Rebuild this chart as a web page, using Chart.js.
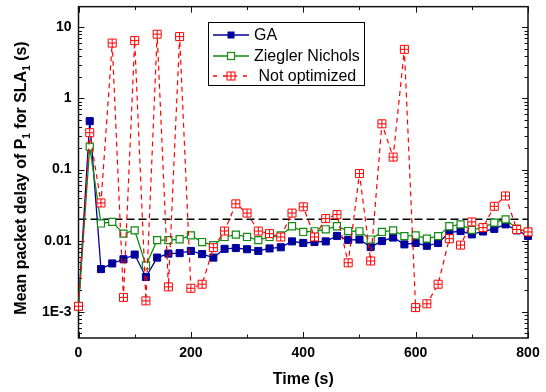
<!DOCTYPE html>
<html>
<head>
<meta charset="utf-8">
<script src="https://cdn.jsdelivr.net/npm/chart.js@4.4.1/dist/chart.umd.min.js"></script>
<style>
html, body { margin: 0; padding: 0; background: #fff; }
#wrap { width: 546px; height: 392px; }
</style>
</head>
<body>
<div id="wrap"><canvas id="delayChart" width="546" height="392"></canvas></div>
<script>
// time axis (s)
const time = [0, 20, 40, 60, 80, 100, 120, 140, 160, 180, 200, 220, 240, 260, 280, 300, 320, 340, 360, 380,
    400, 420, 440, 460, 480, 500, 520, 540, 560, 580, 600, 620, 640, 660, 680, 700, 720, 740, 760, 780, 800];

// mean packet delay (s)
const gaDelay = [0.0012, 0.48, 0.0040, 0.0048, 0.0055, 0.0064, 0.0031, 0.0058, 0.0066, 0.0067,
    0.0072, 0.0065, 0.0058, 0.0077, 0.0079, 0.0076, 0.0072, 0.0078, 0.0081, 0.0098,
    0.0093, 0.0096, 0.0098, 0.0117, 0.0103, 0.0104, 0.0082, 0.0099, 0.0111, 0.0089,
    0.0093, 0.0085, 0.0093, 0.0130, 0.0137, 0.0123, 0.0135, 0.0147, 0.0170, 0.0140, 0.0117];
const znDelay = [0.0012, 0.21, 0.0175, 0.0184, 0.0126, 0.0140, 0.0045, 0.0102, 0.0102, 0.0105,
    0.0119, 0.0096, 0.0087, 0.0113, 0.0122, 0.0113, 0.0102, 0.0113, 0.0119, 0.0160,
    0.0133, 0.0136, 0.0145, 0.0160, 0.0137, 0.0136, 0.0104, 0.0133, 0.0140, 0.0116,
    0.0119, 0.0107, 0.0116, 0.0160, 0.0170, 0.0142, 0.0153, 0.0180, 0.0200, 0.0148, 0.0133];
const notOptDelay = [0.0012, 0.33, 0.034, 6.0, 0.0016, 6.5, 0.00143, 8.0, 0.00225, 7.4,
    0.00215, 0.00245, 0.0080, 0.0137, 0.033, 0.0245, 0.0137, 0.0126, 0.0113, 0.0245,
    0.030, 0.0113, 0.0205, 0.0233, 0.0049, 0.088, 0.0052, 0.44, 0.15, 4.9,
    0.00115, 0.0013, 0.00245, 0.0107, 0.0087, 0.0184, 0.0153, 0.0305, 0.0426, 0.0144, 0.0133];
const slaLimit = 0.02;

const seriesNames = ['GA', 'Ziegler Nichols', ' Not optimized'];
const xTicks = [0, 200, 400, 600, 800];
const yTicks = [0.001, 0.01, 0.1, 1, 10];
const yTickLabels = ['1E-3', '0.01', '0.1', '1', '10'];

const FONT = "'Liberation Sans', Arial, sans-serif";
const RED = '#ff0000';
const GREEN = '#108a10';
const BLUE = '#00009c';

const toXY = arr => arr.map((v, i) => ({ x: time[i], y: v }));

// plus sign inside the red squares
function drawCross(ctx, x, y) {
    ctx.beginPath();
    ctx.moveTo(x - 4, y); ctx.lineTo(x + 4, y);
    ctx.moveTo(x, y - 4); ctx.lineTo(x, y + 4);
    ctx.stroke();
}

const frameAndText = {
    id: 'frameAndText',
    beforeDatasetsDraw(chart) {
        const { ctx, chartArea: a, scales: { x, y } } = chart;
        ctx.save();
        ctx.strokeStyle = '#111';
        ctx.lineWidth = 1;
        ctx.beginPath();
        for (let v = 0; v <= 800; v += 100) {
            const px = Math.round(x.getPixelForValue(v)) + 0.5;
            const len = v % 200 === 0 ? 6 : 3.5;
            ctx.moveTo(px, a.bottom); ctx.lineTo(px, a.bottom - len);
            ctx.moveTo(px, a.top); ctx.lineTo(px, a.top + len);
        }
        for (let e = -4; e <= 1; e++) {
            for (let m = 1; m <= 9; m++) {
                const v = m * Math.pow(10, e);
                if (v < y.min || v > y.max) continue;
                const py = Math.round(y.getPixelForValue(v)) + 0.5;
                const len = m === 1 ? 6 : 3.5;
                ctx.moveTo(a.left, py); ctx.lineTo(a.left + len, py);
                ctx.moveTo(a.right, py); ctx.lineTo(a.right - len, py);
            }
        }
        ctx.stroke();
        ctx.lineWidth = 1.5;
        ctx.strokeRect(a.left, a.top, a.right - a.left, a.bottom - a.top);
        ctx.restore();
    },
    afterDatasetsDraw(chart) {
        const { ctx } = chart;
        ctx.save();
        ctx.strokeStyle = RED;
        ctx.lineWidth = 1;
        chart.getDatasetMeta(0).data.forEach(pt => drawCross(ctx, pt.x, pt.y));
        ctx.restore();
    },
    afterDraw(chart) {
        const { ctx, chartArea: a } = chart;
        ctx.save();

        // legend
        const lx = 208, ly = 22, lw = 156, lh = 63;
        ctx.fillStyle = '#fff';
        ctx.fillRect(lx, ly, lw, lh);
        ctx.strokeStyle = '#000';
        ctx.lineWidth = 1;
        ctx.strokeRect(lx + 0.5, ly + 0.5, lw, lh);
        const rows = [35, 56, 76];
        const colors = [BLUE, GREEN, RED];
        ctx.font = '16px ' + FONT;
        ctx.textBaseline = 'middle';
        rows.forEach((ry, i) => {
            ctx.strokeStyle = colors[i];
            ctx.lineWidth = 1.3;
            ctx.setLineDash(i === 2 ? [4, 6] : []);
            ctx.beginPath();
            ctx.moveTo(213, ry); ctx.lineTo(249, ry);
            ctx.stroke();
            ctx.setLineDash([]);
            if (i === 0) {
                ctx.fillStyle = BLUE;
                ctx.fillRect(227.5, ry - 3.5, 7, 7);
            } else if (i === 1) {
                ctx.fillStyle = '#fff';
                ctx.fillRect(227.5, ry - 3.5, 7, 7);
                ctx.lineWidth = 1.2;
                ctx.strokeRect(227.5, ry - 3.5, 7, 7);
            } else {
                ctx.fillStyle = '#fff';
                ctx.fillRect(227, ry - 4, 8, 8);
                ctx.lineWidth = 1;
                ctx.strokeRect(227, ry - 4, 8, 8);
                drawCross(ctx, 231, ry);
            }
            ctx.fillStyle = '#000';
            ctx.textAlign = 'left';
            ctx.fillText(seriesNames[i], 254, ry + 1);
        });

        // x title
        ctx.font = 'bold 16px ' + FONT;
        ctx.textAlign = 'center';
        ctx.fillText('Time (s)', (a.left + a.right) / 2, 380);

        // y title with subscripts
        const parts = [['Mean packet delay of P', false], ['1', true], [' for SLA', false], ['1', true], [' (s)', false]];
        const mainFont = 'bold 16px ' + FONT;
        const subFont = 'bold 10px ' + FONT;
        let total = 0;
        parts.forEach(p => { ctx.font = p[1] ? subFont : mainFont; total += ctx.measureText(p[0]).width; });
        ctx.translate(22, 178);
        ctx.rotate(-Math.PI / 2);
        ctx.textAlign = 'left';
        let cx = -total / 2;
        parts.forEach(p => {
            ctx.font = p[1] ? subFont : mainFont;
            ctx.fillText(p[0], cx, p[1] ? 5 : 0);
            cx += ctx.measureText(p[0]).width;
        });
        ctx.restore();
    }
};

new Chart(document.getElementById('delayChart'), {
    type: 'line',
    data: {
        datasets: [
            {
                label: seriesNames[2],
                data: toXY(notOptDelay),
                borderColor: RED,
                borderWidth: 1.2,
                borderDash: [5, 4],
                pointStyle: 'rect',
                pointRadius: 5.66,
                pointBackgroundColor: '#fff',
                pointBorderColor: RED,
                pointBorderWidth: 1,
                clip: false,
                order: 0
            },
            {
                label: seriesNames[1],
                data: toXY(znDelay),
                borderColor: GREEN,
                borderWidth: 1.3,
                pointStyle: 'rect',
                pointRadius: 5,
                pointBackgroundColor: '#fff',
                pointBorderColor: GREEN,
                pointBorderWidth: 1.2,
                clip: false,
                order: 1
            },
            {
                label: seriesNames[0],
                data: toXY(gaDelay),
                borderColor: BLUE,
                borderWidth: 1.3,
                pointStyle: 'rect',
                pointRadius: 5,
                pointBackgroundColor: BLUE,
                pointBorderColor: BLUE,
                pointBorderWidth: 1,
                clip: false,
                order: 2
            },
            {
                label: 'SLA',
                data: [{ x: time[0], y: slaLimit }, { x: time[time.length - 1], y: slaLimit }],
                borderColor: '#000',
                borderWidth: 1.5,
                borderDash: [8, 4],
                pointRadius: 0,
                order: 3
            }
        ]
    },
    options: {
        responsive: false,
        animation: false,
        devicePixelRatio: 1,
        layout: { padding: { left: 0, right: 18, top: 6, bottom: 0 } },
        plugins: { legend: { display: false }, tooltip: { enabled: false } },
        scales: {
            x: {
                type: 'linear',
                min: 0,
                max: 800,
                grid: { display: false, drawTicks: false },
                border: { display: false },
                afterFit: s => { s.height = 54; s.paddingLeft = 0; s.paddingRight = 0; },
                afterBuildTicks: s => { s.ticks = xTicks.map(v => ({ value: v })); },
                ticks: {
                    padding: 7,
                    color: '#000',
                    maxRotation: 0,
                    autoSkip: false,
                    font: { family: FONT, size: 14, weight: 'bold' },
                    callback: v => String(v)
                }
            },
            y: {
                type: 'logarithmic',
                min: 0.00043,
                max: 19.5,
                grid: { display: false, drawTicks: false },
                border: { display: false },
                afterFit: s => { s.width = 78.5; s.paddingTop = 0; s.paddingBottom = 0; },
                afterBuildTicks: s => { s.ticks = yTicks.map(v => ({ value: v })); },
                ticks: {
                    padding: 7,
                    color: '#000',
                    autoSkip: false,
                    font: { family: FONT, size: 14, weight: 'bold' },
                    callback: (v, i) => yTickLabels[i]
                }
            }
        }
    },
    plugins: [frameAndText]
});
</script>
</body>
</html>
